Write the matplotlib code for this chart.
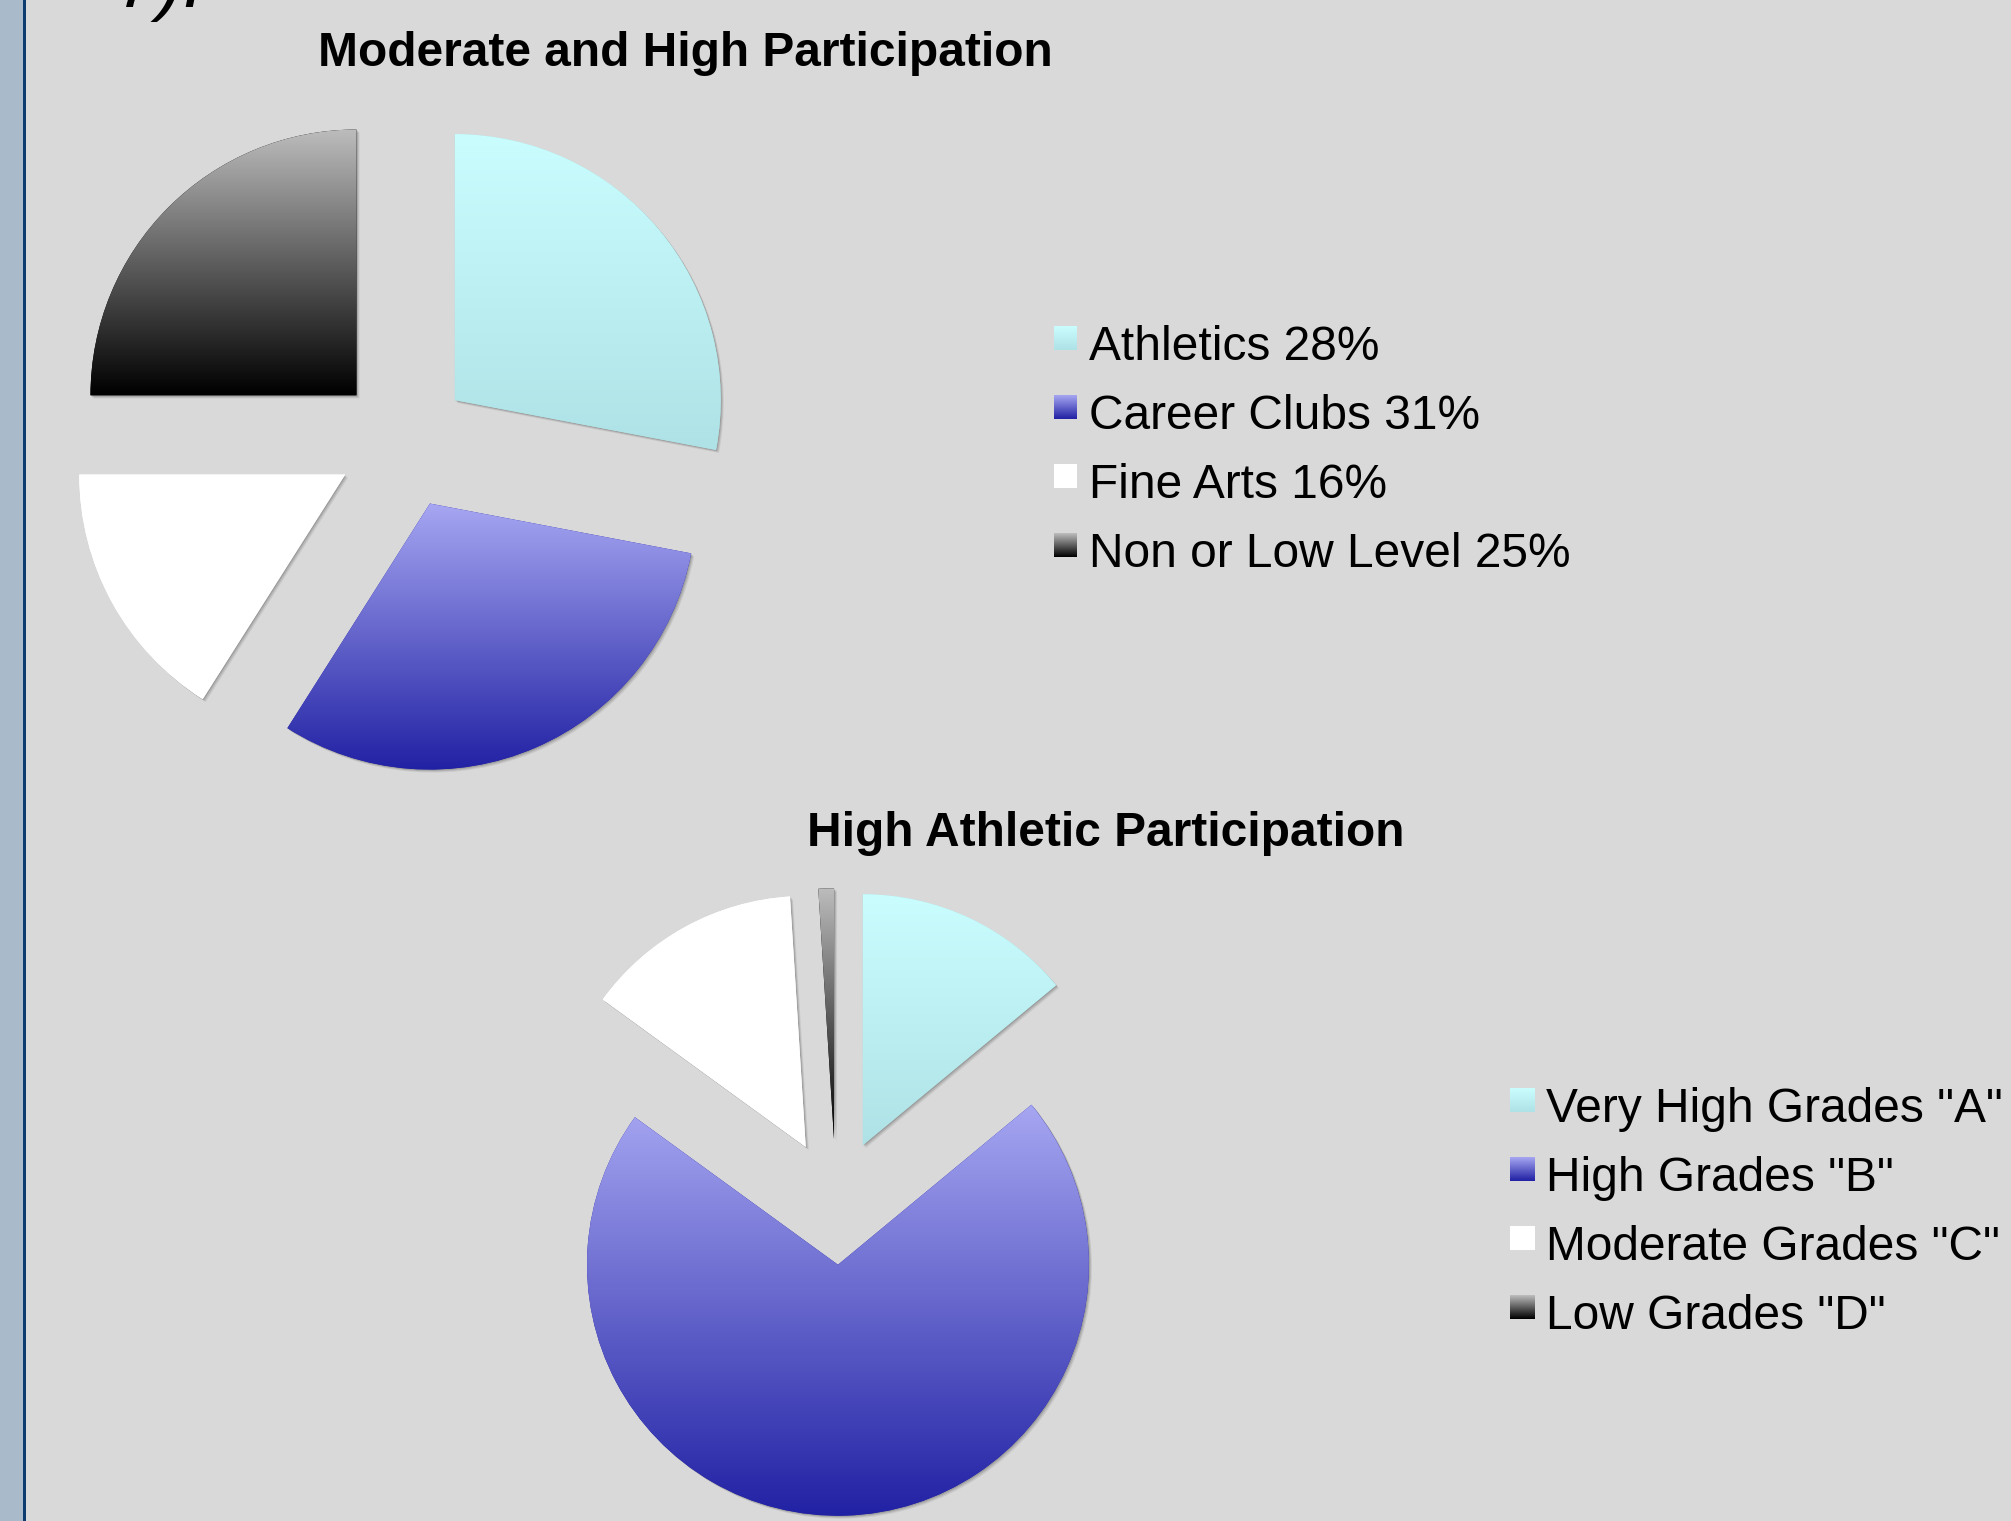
import numpy as np
import matplotlib
matplotlib.use("Agg")
import matplotlib.pyplot as plt
from matplotlib.patches import Rectangle, PathPatch
from matplotlib.colors import LinearSegmentedColormap
from matplotlib.transforms import Affine2D

plt.rcParams["font.family"] = ["Liberation Sans", "DejaVu Sans"]

W, H = 2011, 1521
DPI = 100

# ---------------- data ----------------
top_title = "Moderate and High Participation"
top_labels = ["Athletics 28%", "Career Clubs 31%", "Fine Arts 16%", "Non or Low Level 25%"]
top_values = [28, 31, 16, 25]

bottom_title = "High Athletic Participation"
bottom_labels = ['Very High Grades "A"', 'High Grades "B"', 'Moderate Grades "C"', 'Low Grades "D"']
bottom_values = [14, 71, 14, 1]

# (top colour, bottom colour) of the vertical gradient of each category
grad_colors = [("#c9fdfe", "#afe2e6"),
               ("#a6a6f2", "#2121a4"),
               ("#ffffff", "#ffffff"),
               ("#bdbdbd", "#000000")]

BG = "#d9d9d9"

fig = plt.figure(figsize=(W / DPI, H / DPI), dpi=DPI, facecolor=BG)

# overlay axes in pixel coordinates (for strip, titles, legends)
ov = fig.add_axes([0, 0, 1, 1], zorder=0)
ov.set_xlim(0, W)
ov.set_ylim(H, 0)
ov.set_autoscale_on(False)
ov.axis("off")


def gradient_cmap(c_top, c_bot):
    return LinearSegmentedColormap.from_list("g", [c_bot, c_top])


def draw_pie(ax, values):
    wedges, _ = ax.pie(values, explode=[0.25] * len(values), startangle=90,
                       counterclock=False, radius=1,
                       colors=[c[1] for c in grad_colors],
                       wedgeprops=dict(linewidth=0))
    ax.set_xlim(-1.5, 1.5)
    ax.set_ylim(-1.5, 1.5)
    ax.set_aspect("equal")
    ax.set_autoscale_on(False)
    ax.axis("off")
    grad = np.linspace(0, 1, 256).reshape(-1, 1)
    for w, (c0, c1) in zip(wedges, grad_colors):
        # soft drop shadow: wedge outline shifted a few pixels right/down
        for off, a in ((3.0, 0.12), (2.0, 0.18), (1.0, 0.25)):
            sh = PathPatch(w.get_path(), facecolor="#5a5a5a", edgecolor="none", alpha=a,
                           transform=ax.transData + Affine2D().translate(off, -off))
            sh.set_zorder(w.get_zorder() - 0.5)
            ax.add_patch(sh)
        bb = w.get_path().get_extents()
        im = ax.imshow(grad, cmap=gradient_cmap(c0, c1),
                       extent=(bb.x0, bb.x1, bb.y0, bb.y1), origin="lower",
                       aspect="auto", interpolation="bilinear",
                       zorder=w.get_zorder() + 0.1)
        im.set_clip_path(w)
    return wedges


# top pie: centre (403.5, 442.5) px, radius 266 px
r1, cx1, cy1 = 266, 403.5, 442.5
s1 = 3 * r1
ax1 = fig.add_axes([(cx1 - s1 / 2) / W, (H - cy1 - s1 / 2) / H, s1 / W, s1 / H], zorder=1)
ax1.patch.set_visible(False)
draw_pie(ax1, top_values)

# bottom pie: centre (836, 1202) px, radius 251 px
r2, cx2, cy2 = 251, 836, 1202
s2 = 3 * r2
ax2 = fig.add_axes([(cx2 - s2 / 2) / W, (H - cy2 - s2 / 2) / H, s2 / W, s2 / H], zorder=1)
ax2.patch.set_visible(False)
draw_pie(ax2, bottom_values)

# left strip
ov.add_patch(Rectangle((0, 0), 23, H, facecolor="#a9bacb", edgecolor="none"))
ov.add_patch(Rectangle((23, 0), 3.3, H, facecolor="#0d3b6f", edgecolor="none"))

# clipped slide text at top
ov.text(116, 7, "7).", fontsize=54, style="italic", ha="left", va="baseline", color="black")

# titles
ov.text(685.5, 66, top_title, fontsize=34.5, fontweight="bold", ha="center", va="baseline")
ov.text(1106, 846, bottom_title, fontsize=34.5, fontweight="bold", ha="center", va="baseline")


def draw_legend(labels, x_sq, sq_w, x_txt, y0, dy, fs):
    grad = np.linspace(1, 0, 64).reshape(-1, 1)
    for i, (lab, (c0, c1)) in enumerate(zip(labels, grad_colors)):
        yb = y0 + dy * i
        top = yb - 34
        bot = yb - 10
        ov.imshow(grad, cmap=gradient_cmap(c0, c1), extent=(x_sq, x_sq + sq_w, bot, top),
                  origin="upper", aspect="auto", interpolation="bilinear", zorder=2)
        ov.text(x_txt, yb, lab, fontsize=fs, ha="left", va="baseline", color="black", zorder=3)


draw_legend(top_labels, 1054, 23, 1089, 360, 69, 34.5)
draw_legend(bottom_labels, 1510, 25, 1546, 1122, 69, 34.5)

fig.savefig("out.png", dpi=DPI, facecolor=BG)
